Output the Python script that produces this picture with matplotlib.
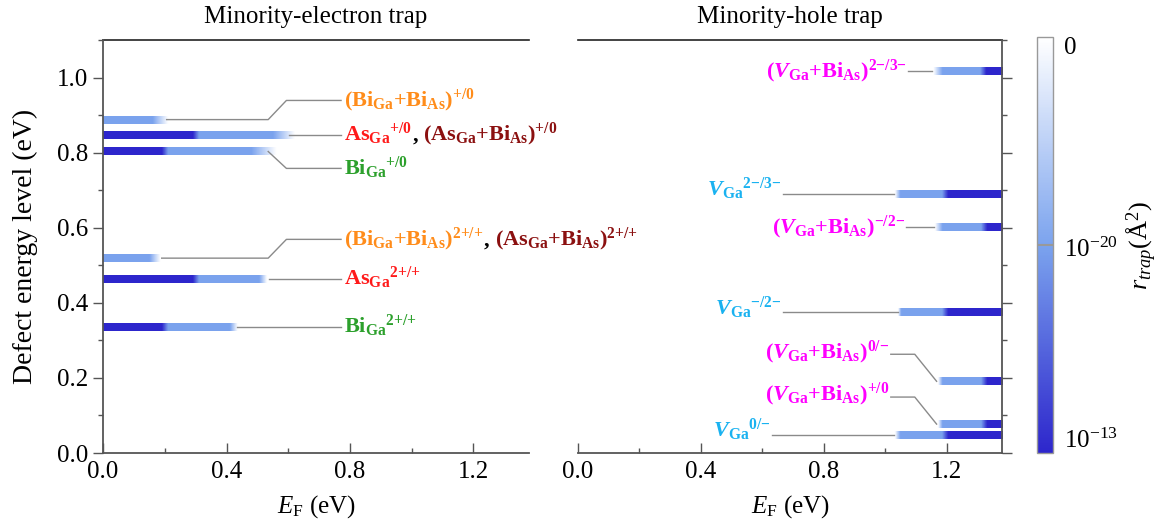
import numpy as np
import matplotlib
matplotlib.use("Agg")
import matplotlib.pyplot as plt
from matplotlib.colors import LinearSegmentedColormap, Normalize
from matplotlib.cm import ScalarMappable
from matplotlib.ticker import MultipleLocator, FormatStrFormatter

plt.rcParams['font.family'] = ['Liberation Serif', 'DejaVu Serif']
plt.rcParams['mathtext.fontset'] = 'custom'
plt.rcParams['mathtext.rm'] = 'Liberation Serif'
plt.rcParams['mathtext.it'] = 'Liberation Serif:italic'
plt.rcParams['mathtext.bf'] = 'Liberation Serif:bold'
plt.rcParams['mathtext.bfit'] = 'Liberation Serif:bold:italic'

# ---------------- DATA ----------------
EF_MAX = 1.38
BAR_H = 0.021

# minority-electron traps: bars start at EF = 0 (dark -> light -> fade to white)
e_levels = [0.888, 0.848, 0.803, 0.519, 0.463, 0.335]
e_dark_end = [0.0, 0.30, 0.20, 0.0, 0.30, 0.20]
e_light_end = [0.16, 0.55, 0.48, 0.15, 0.505, 0.41]
e_fade_end = [0.21, 0.62, 0.56, 0.185, 0.53, 0.435]
e_line_start = [0.206, 0.603, 0.535, 0.19, 0.539, 0.435]
e_label_y = [0.939, 0.848, 0.758, 0.569, 0.463, 0.335]
e_labels = [
    [(r'$\mathbf{(Bi}_{\mathbf{Ga}}\mathbf{{+}Bi}_{\mathbf{As}}\mathbf{)}^{\mathbf{{+}/0}}$', '#ff8c1a')],
    [(r'$\mathbf{As}_{\mathbf{Ga}}{}^{\mathbf{{+}/0}}$', '#ff1a1a'),
     (r'$\mathbf{,}$', 'black'),
     (r'$\mathbf{(As}_{\mathbf{Ga}}\mathbf{{+}Bi}_{\mathbf{As}}\mathbf{)}^{\mathbf{{+}/0}}$', '#8b1010')],
    [(r'$\mathbf{Bi}_{\mathbf{Ga}}{}^{\mathbf{{+}/0}}$', '#2ca02c')],
    [(r'$\mathbf{(Bi}_{\mathbf{Ga}}\mathbf{{+}Bi}_{\mathbf{As}}\mathbf{)}^{\mathbf{2{+}/{+}}}$', '#ff8c1a'),
     (r'$\mathbf{,}$', 'black'),
     (r'$\mathbf{(As}_{\mathbf{Ga}}\mathbf{{+}Bi}_{\mathbf{As}}\mathbf{)}^{\mathbf{2{+}/{+}}}$', '#8b1010')],
    [(r'$\mathbf{As}_{\mathbf{Ga}}{}^{\mathbf{2{+}/{+}}}$', '#ff1a1a')],
    [(r'$\mathbf{Bi}_{\mathbf{Ga}}{}^{\mathbf{2{+}/{+}}}$', '#2ca02c')],
]

# minority-hole traps: bars end at EF = EF_MAX (fade -> light -> dark)
h_levels = [1.017, 0.689, 0.601, 0.376, 0.191, 0.077, 0.048]
h_dark_start = [1.317, 1.193, 1.32, 1.193, 1.32, 1.32, 1.193]
h_light_start = [1.184, 1.047, 1.184, 1.05, 1.184, 1.184, 1.047]
h_fade_start = [1.155, 1.03, 1.16, 1.04, 1.17, 1.17, 1.03]
h_line_start = [1.151, 1.03, 1.16, 1.04, 1.167, 1.167, 1.03]
h_label_x = [1.073, 0.667, 1.067, 0.667, 1.018, 1.018, 0.631]
h_label_y = [1.017, 0.689, 0.601, 0.376, 0.263, 0.149, 0.048]
h_label_base = [1.0, 0.686, 0.585, 0.367, 0.253, 0.141, 0.043]
MAG, SKY = '#ff00ff', '#1ab2f0'
h_labels = [
    (r'$\mathbf{(}\mathbfit{V}_{\mathbf{Ga}}\mathbf{{+}Bi}_{\mathbf{As}}\mathbf{)}^{\mathbf{2{-}/3{-}}}$', MAG),
    (r'$\mathbfit{V}_{\mathbf{Ga}}{}^{\mathbf{2{-}/3{-}}}$', SKY),
    (r'$\mathbf{(}\mathbfit{V}_{\mathbf{Ga}}\mathbf{{+}Bi}_{\mathbf{As}}\mathbf{)}^{\mathbf{{-}/2{-}}}$', MAG),
    (r'$\mathbfit{V}_{\mathbf{Ga}}{}^{\mathbf{{-}/2{-}}}$', SKY),
    (r'$\mathbf{(}\mathbfit{V}_{\mathbf{Ga}}\mathbf{{+}Bi}_{\mathbf{As}}\mathbf{)}^{\mathbf{0/{-}}}$', MAG),
    (r'$\mathbf{(}\mathbfit{V}_{\mathbf{Ga}}\mathbf{{+}Bi}_{\mathbf{As}}\mathbf{)}^{\mathbf{{+}/0}}$', MAG),
    (r'$\mathbfit{V}_{\mathbf{Ga}}{}^{\mathbf{0/{-}}}$', SKY),
]

cbar_ticks = [0.02, 0.505, 0.965]
cbar_ticklabels = ['0', r'$10^{-20}$', r'$10^{-13}$']
# --------------------------------------

DARK = '#2d26cc'
LIGHT = '#7ba3ee'
LINE_C = '#8a8a8a'
SPINE_C = '#555555'
cmap = LinearSegmentedColormap.from_list('rtrap', [(0, 'white'), (0.5, LIGHT), (1, DARK)])

fig = plt.figure(figsize=(11.63, 5.27), dpi=100)
ax1 = fig.add_axes([0.0886, 0.1404, 0.3663, 0.7837])
ax2 = fig.add_axes([0.497, 0.1404, 0.3646, 0.7837])
cax = fig.add_axes([0.8917, 0.1404, 0.0138, 0.7894])
ax2.set_facecolor('none')
ax1.set_zorder(ax2.get_zorder() + 1)  # let left-panel labels run over the right panel

grid = np.linspace(0, EF_MAX, 700)


def draw_bar(ax, level, xp, vp):
    prof = np.interp(grid, xp, vp)
    ax.imshow(prof[None, :], extent=[0, EF_MAX, level - BAR_H / 2, level + BAR_H / 2],
              aspect='auto', cmap=cmap, vmin=0, vmax=1, interpolation='bilinear', zorder=2)


# left panel bars
for E, d, l, f in zip(e_levels, e_dark_end, e_light_end, e_fade_end):
    if d > 0:
        draw_bar(ax1, E, [0, d - 0.01, d + 0.01, l, f], [1, 1, 0.5, 0.5, 0])
    else:
        draw_bar(ax1, E, [0, l, f], [0.5, 0.5, 0])

# right panel bars
for E, d, l, f in zip(h_levels, h_dark_start, h_light_start, h_fade_start):
    draw_bar(ax2, E, [f, l, d - 0.01, d + 0.01, EF_MAX], [0, 0.5, 0.5, 1, 1])

# left leaders
KNEE1, KNEE2, LEND, LTEXT = 0.535, 0.594, 0.771, 0.78
for E, xs, yl in zip(e_levels, e_line_start, e_label_y):
    if abs(yl - E) < 1e-6:
        ax1.plot([xs, LEND], [E, E], color=LINE_C, lw=1, zorder=3)
    else:
        ax1.plot([xs, KNEE1, KNEE2, LEND], [E, E, yl, yl], color=LINE_C, lw=1, zorder=3)

# right leaders
RKNEE = 1.096
for E, xs, xl, yl in zip(h_levels, h_line_start, h_label_x, h_label_y):
    if abs(yl - E) < 1e-6:
        ax2.plot([xl, xs], [E, E], color=LINE_C, lw=1, zorder=3)
    else:
        ax2.plot([xl, RKNEE, xs], [yl, yl, E], color=LINE_C, lw=1, zorder=3)

for ax in (ax1, ax2):
    ax.set_xlim(0, EF_MAX)
    ax.set_ylim(0, 1.1)
    ax.xaxis.set_major_locator(MultipleLocator(0.4))
    ax.xaxis.set_minor_locator(MultipleLocator(0.2))
    ax.yaxis.set_major_locator(MultipleLocator(0.2))
    ax.yaxis.set_minor_locator(MultipleLocator(0.1))
    ax.tick_params(axis='x', which='both', direction='in', top=False, labelsize=18,
                   color=SPINE_C, width=1, pad=6)
    ax.tick_params(axis='x', which='major', length=7)
    ax.tick_params(axis='x', which='minor', length=3.5)
    ax.tick_params(axis='y', which='both', direction='out', labelsize=18, color=SPINE_C, width=1)
    ax.tick_params(axis='y', which='major', length=7)
    ax.tick_params(axis='y', which='minor', length=3.5)
    ax.xaxis.set_major_formatter(FormatStrFormatter('%.1f'))
    ax.yaxis.set_major_formatter(FormatStrFormatter('%.1f'))
    for s in ('left', 'right', 'bottom'):
        ax.spines[s].set_color(SPINE_C)
        ax.spines[s].set_linewidth(1.3)
        ax.spines[s].set_zorder(4)
    ax.spines['top'].set_color('#222222')
    ax.spines['top'].set_linewidth(1.2)
    ax.set_xlabel(r'$E_{\mathrm{F}}$ (eV)', fontsize=18, labelpad=7)

ax1.spines['right'].set_visible(False)
ax1.tick_params(axis='y', which='both', right=False)
ax1.set_ylabel('Defect energy level (eV)', fontsize=20, labelpad=14)
ax1.set_title('Minority-electron trap', fontsize=18, pad=12)

ax2.spines['left'].set_visible(False)
ax2.tick_params(axis='y', which='both', left=False, right=True, labelleft=False, labelright=False)
ax2.set_title('Minority-hole trap', fontsize=18, pad=12)

# labels
renderer = fig.canvas.get_renderer()
LAB_FS = 16
for pieces, yl in zip(e_labels, e_label_y):
    x = LTEXT
    for txt, col in pieces:
        t = ax1.text(x, yl - 0.016, txt, color=col, fontsize=LAB_FS, ha='left', va='baseline',
                     zorder=5)
        bb = t.get_window_extent(renderer=renderer)
        x_disp = bb.x1 + (5 if txt == r'$\mathbf{,}$' else 0)
        x = ax1.transData.inverted().transform((x_disp, 0))[0]

for (txt, col), xl, yb in zip(h_labels, h_label_x, h_label_base):
    ax2.text(xl - 0.004, yb, txt, color=col, fontsize=LAB_FS, ha='right', va='baseline', zorder=5)

# colorbar
cb = fig.colorbar(ScalarMappable(norm=Normalize(0, 1), cmap=cmap), cax=cax)
cax.invert_yaxis()
cb.set_ticks(cbar_ticks)
cb.set_ticklabels(cbar_ticklabels)
cax.tick_params(length=0, labelsize=18, pad=8)
cb.outline.set_edgecolor('#999999')
cb.outline.set_linewidth(1)
cax.axhline(0.5, color='#999999', lw=1.5)
cb.set_label(r'$r_{trap}$(Å$^2$)', fontsize=19, labelpad=4)

fig.savefig('out.png', dpi=100)
